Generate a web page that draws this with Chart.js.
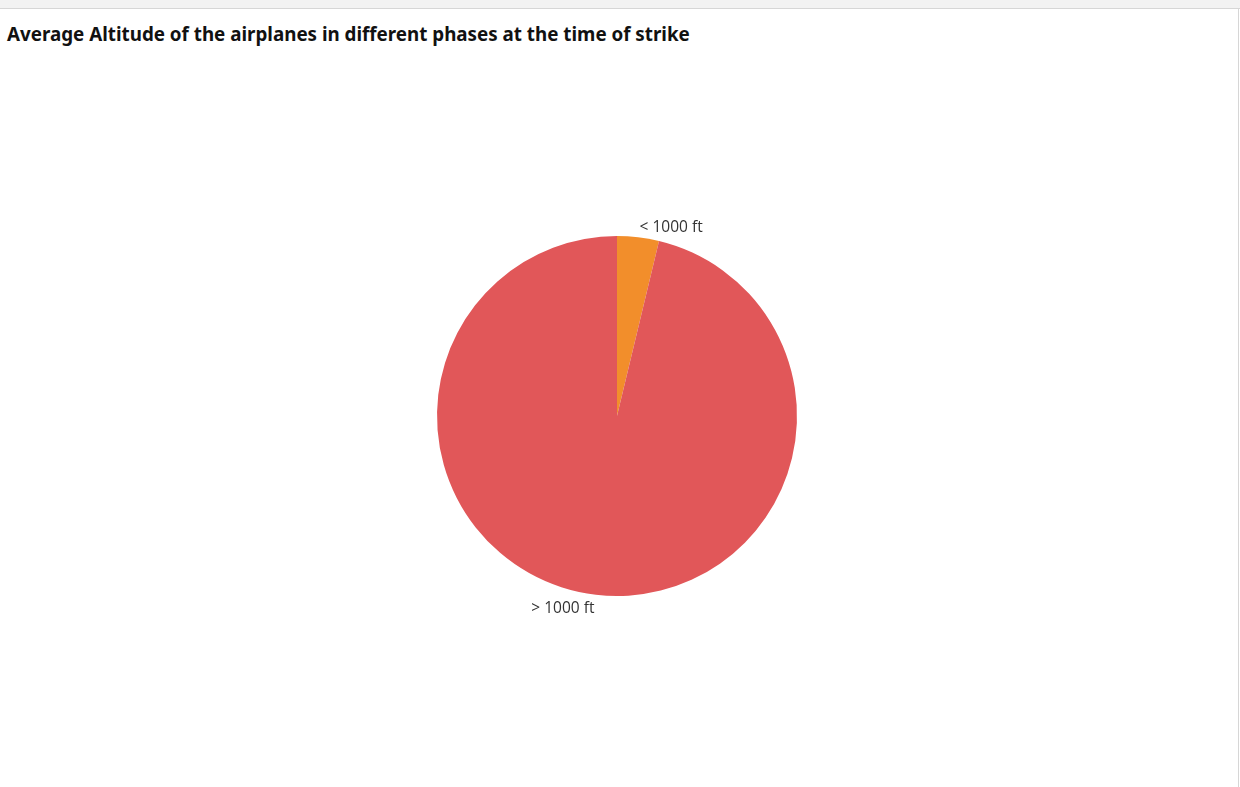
<!DOCTYPE html>
<html>
<head>
<meta charset="utf-8">
<script src="https://cdn.jsdelivr.net/npm/chart.js@4"></script>
<style>
  html, body { margin: 0; padding: 0; background: #fff; }
  body { width: 1240px; height: 787px; position: relative; overflow: hidden; }
  #topbar { position: absolute; left: 0; top: 0; width: 1240px; height: 8px; background: #f2f2f2; border-bottom: 1px solid #d6d6d6; }
  #rightline { position: absolute; left: 1238px; top: 9px; width: 1px; height: 778px; background: #d6d6d6; }
  #title { position: absolute; left: 7px; top: 21px; font-family: "Noto Sans", sans-serif; font-weight: bold; font-size: 18.8px; color: #111; white-space: nowrap; }
  #wrap { position: absolute; left: 0; top: 9px; width: 1238px; height: 778px; }
</style>
</head>
<body>
<div id="topbar"></div>
<div id="rightline"></div>
<div id="title">Average Altitude of the airplanes in different phases at the time of strike</div>
<div id="wrap"><canvas id="pie"></canvas></div>
<script>
const categories = ['< 1000 ft', '> 1000 ft'];
const values = [3.75, 96.25];
const colors = ['#F28E2B', '#E15759'];

// labels outside the slices, like the original
const outsideLabels = {
  id: 'outsideLabels',
  afterDatasetsDraw(chart) {
    const ctx = chart.ctx;
    const meta = chart.getDatasetMeta(0);
    ctx.save();
    ctx.font = '15.5px "Open Sans", sans-serif';
    ctx.fillStyle = '#333';
    ctx.textBaseline = 'middle';
    meta.data.forEach((arc, i) => {
      const mid = (arc.startAngle + arc.endAngle) / 2;
      const r = arc.outerRadius + 12;
      const x = arc.x + Math.cos(mid) * r;
      const y = arc.y + Math.sin(mid) * r + 2;
      ctx.textAlign = Math.cos(mid) >= 0 ? 'left' : 'right';
      ctx.fillText(chart.data.labels[i], x, y);
    });
    ctx.restore();
  }
};

new Chart(document.getElementById('pie'), {
  type: 'pie',
  data: {
    labels: categories,
    datasets: [{
      data: values,
      backgroundColor: colors,
      borderWidth: 0
    }]
  },
  options: {
    responsive: true,
    maintainAspectRatio: false,
    animation: false,
    layout: { padding: { top: 227, bottom: 191, left: 0, right: 4 } },
    plugins: {
      legend: { display: false },
      tooltip: { enabled: false }
    }
  },
  plugins: [outsideLabels]
});
</script>
</body>
</html>
